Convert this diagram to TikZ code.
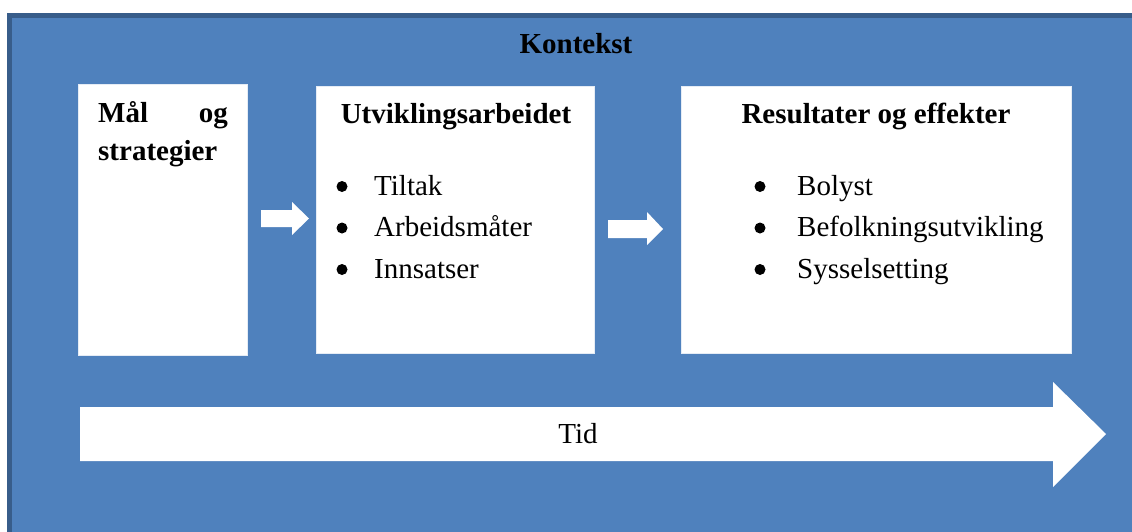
\documentclass[tikz,border=0pt]{standalone}
\usepackage{fontspec}
\setmainfont{Liberation Serif}
\definecolor{ctxblue}{HTML}{4F81BD}
\definecolor{ctxedge}{HTML}{385D8A}
\tikzset{
  panel/.style={fill=white, draw=white!85!ctxblue, line width=0.8pt},
  blockarrow/.style={fill=white, draw=none},
  lbl/.style={inner sep=0pt, font=\fontsize{29}{35}\selectfont},
  head/.style={lbl, font=\fontsize{29}{35}\selectfont\bfseries},
  dot/.style={circle, fill=black, inner sep=0pt, minimum size=11pt},
}
\begin{document}
\begin{tikzpicture}[x=1pt,y=-1pt]
  \useasboundingbox (0,0) rectangle (1132,531);
  \clip (0,0) rectangle (1132,531);
  % context frame
  \fill[white] (0,0) rectangle (1132,531);
  \draw[fill=ctxblue, draw=ctxedge, line width=5pt] (9.5,15.5) rectangle (1145,545);
  \node[head, anchor=base] (kontekst) at (576,53) {Kontekst};

  % panels
  \draw[panel] (78,84) rectangle (247,355);
  \draw[panel] (316,86) rectangle (594,353);
  \draw[panel] (681,86) rectangle (1071,353);

  % goals panel
  \node[head, anchor=base west] (mal) at (98,122) {Mål};
  \node[head, anchor=base east] (og) at (228,122) {og};
  \node[head, anchor=base west] (strat) at (98,160) {strategier};

  % development work panel
  \node[head, anchor=base] (utv) at (456,123) {Utviklingsarbeidet};
  \foreach \y/\t [count=\i] in {195/Tiltak, 236.5/Arbeidsmåter, 278/Innsatser} {
    \node[dot] (ub\i) at (342,\y-8.5) {};
    \node[lbl, anchor=base west] (ut\i) at (374,\y) {\t};
  }

  % results panel
  \node[head, anchor=base] (res) at (876,123) {Resultater og effekter};
  \foreach \y/\t [count=\i] in {195/Bolyst, 236.5/Befolkningsutvikling, 278/Sysselsetting} {
    \node[dot] (rb\i) at (760,\y-8.5) {};
    \node[lbl, anchor=base west] (rt\i) at (797,\y) {\t};
  }

  % block arrows between panels
  \fill[blockarrow] (261,210) -- (292,210) -- (292,202) -- (309,218.5)
    -- (292,235) -- (292,227) -- (261,227) -- cycle;
  \fill[blockarrow] (608,220) -- (647,220) -- (647,212) -- (663,229)
    -- (647,245) -- (647,238) -- (608,238) -- cycle;

  % time arrow
  \fill[blockarrow] (80,407) -- (1053,407) -- (1053,382) -- (1106,434)
    -- (1053,487) -- (1053,461) -- (80,461) -- cycle;
  \node[lbl, anchor=base] (tid) at (578,443) {Tid};
\end{tikzpicture}
\end{document}
